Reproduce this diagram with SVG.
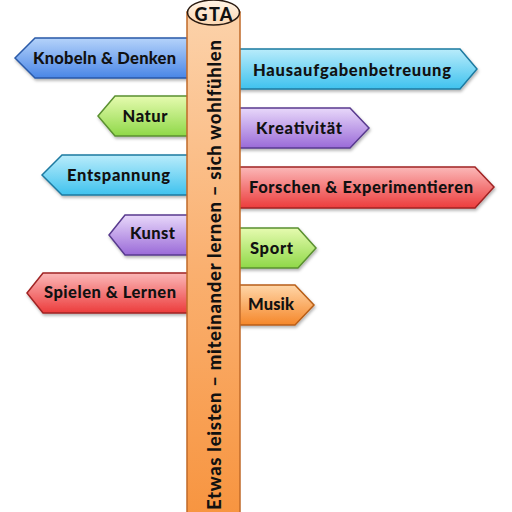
<svg xmlns="http://www.w3.org/2000/svg" width="512" height="512" viewBox="0 0 512 512">
<defs>
<linearGradient id="gBlue" x1="0" y1="0" x2="0" y2="1"><stop offset="0" stop-color="#b5d3fa"/><stop offset="1" stop-color="#4a86e6"/></linearGradient>
<linearGradient id="gCyan" x1="0" y1="0" x2="0" y2="1"><stop offset="0" stop-color="#b9ecfb"/><stop offset="1" stop-color="#3fc2ee"/></linearGradient>
<linearGradient id="gGreen" x1="0" y1="0" x2="0" y2="1"><stop offset="0" stop-color="#e6fbb0"/><stop offset="1" stop-color="#8fd848"/></linearGradient>
<linearGradient id="gPurple" x1="0" y1="0" x2="0" y2="1"><stop offset="0" stop-color="#e8d8fa"/><stop offset="1" stop-color="#9a6ad8"/></linearGradient>
<linearGradient id="gRed" x1="0" y1="0" x2="0" y2="1"><stop offset="0" stop-color="#fbb8b8"/><stop offset="1" stop-color="#ec3c3c"/></linearGradient>
<linearGradient id="gOrange" x1="0" y1="0" x2="0" y2="1"><stop offset="0" stop-color="#ffd6a8"/><stop offset="1" stop-color="#f5872a"/></linearGradient>
<linearGradient id="gPole" x1="0" y1="0" x2="0" y2="1"><stop offset="0" stop-color="#fcd2aa"/><stop offset="0.5" stop-color="#fab070"/><stop offset="1" stop-color="#f7943f"/></linearGradient>
<linearGradient id="gTop" x1="0" y1="0" x2="0" y2="1"><stop offset="0" stop-color="#fff4e6"/><stop offset="1" stop-color="#fcd8b4"/></linearGradient>
<filter id="sh" x="-10%" y="-20%" width="120%" height="150%"><feDropShadow dx="1" dy="2" stdDeviation="1.5" flood-color="#000" flood-opacity="0.3"/></filter>
</defs>
<style>
.sign{stroke-width:1.5;filter:url(#sh)}
.lbl{font-family:Lato,"Open Sans",sans-serif;font-weight:900;font-size:16.5px;fill:#111;dominant-baseline:central}
.blue{fill:url(#gBlue);stroke:#2a5aa8}
.cyan{fill:url(#gCyan);stroke:#1d7aa0}
.green{fill:url(#gGreen);stroke:#5a9030}
.purple{fill:url(#gPurple);stroke:#583a8e}
.red{fill:url(#gRed);stroke:#a02424}
.orange{fill:url(#gOrange);stroke:#b85e18}
</style>
<g id="connectors"/>
<g id="sign-knobeln"><polygon class="sign blue" points="15,58 35,38 195,38 195,78 35,78"/><text class="lbl" x="104.5" y="58" text-anchor="middle" textLength="143">Knobeln &amp; Denken</text></g>
<g id="sign-natur"><polygon class="sign green" points="98,116 115,96 195,96 195,136 115,136"/><text class="lbl" x="145" y="116" text-anchor="middle" textLength="45">Natur</text></g>
<g id="sign-entspannung"><polygon class="sign cyan" points="42,175 62,155 195,155 195,195 62,195"/><text class="lbl" x="118.5" y="175" text-anchor="middle" textLength="103">Entspannung</text></g>
<g id="sign-kunst"><polygon class="sign purple" points="109,235 125,215 195,215 195,255 125,255"/><text class="lbl" x="152.5" y="233" text-anchor="middle" textLength="45">Kunst</text></g>
<g id="sign-spielen"><polygon class="sign red" points="27,293 43,273 195,273 195,313 43,313"/><text class="lbl" x="110" y="292" text-anchor="middle" textLength="132">Spielen &amp; Lernen</text></g>
<g id="sign-hausaufgaben"><polygon class="sign cyan" points="232,49 460,49 477,69 460,89 232,89"/><text class="lbl" x="352" y="70" text-anchor="middle" textLength="198">Hausaufgabenbetreuung</text></g>
<g id="sign-kreativitaet"><polygon class="sign purple" points="232,108 350,108 369,128 350,148 232,148"/><text class="lbl" x="299" y="128" text-anchor="middle" textLength="86">Kreativität</text></g>
<g id="sign-forschen"><polygon class="sign red" points="232,167 475,167 494,187 475,208 232,208"/><text class="lbl" x="361" y="187" text-anchor="middle" textLength="224">Forschen &amp; Experimentieren</text></g>
<g id="sign-sport"><polygon class="sign green" points="232,228 298,228 316,248 298,268 232,268"/><text class="lbl" x="271.5" y="248" text-anchor="middle" textLength="43">Sport</text></g>
<g id="sign-musik"><polygon class="sign orange" points="232,285 295,285 314,305 295,325 232,325"/><text class="lbl" x="271" y="304" text-anchor="middle" textLength="46">Musik</text></g>
<g id="pole">
<rect x="187" y="12" width="53" height="510" fill="url(#gPole)" stroke="#c06a28" stroke-width="1.5"/>
<ellipse cx="213.5" cy="12.5" rx="26" ry="12.5" fill="url(#gTop)" stroke="#2a1a10" stroke-width="1.5"/>
<text x="213.5" y="13.5" text-anchor="middle" textLength="38" style="font-family:Lato,'Open Sans',sans-serif;font-weight:900;font-size:18px;fill:#111;dominant-baseline:central">GTA</text>
<text transform="translate(214,275) rotate(-90)" x="0" y="0" text-anchor="middle" textLength="470" style="font-family:Lato,'Open Sans',sans-serif;font-weight:900;font-size:18.5px;fill:#111;dominant-baseline:central">Etwas leisten – miteinander lernen – sich wohlfühlen</text>
</g>
</svg>
